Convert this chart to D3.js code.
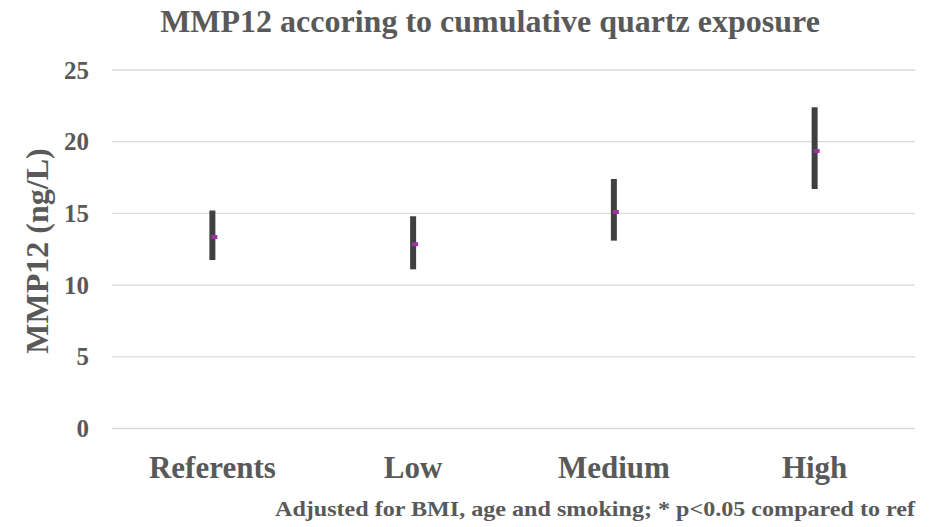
<!DOCTYPE html>
<html>
<head>
<meta charset="utf-8">
<script src="https://cdn.jsdelivr.net/npm/d3@7"></script>
<style>
  body { margin: 0; background: #fff; }
  text { font-family: "Liberation Serif", "Times New Roman", serif; font-weight: bold; fill: #595959; }
</style>
</head>
<body>
<div id="chart"></div>
<script>
// values
var categories = ["Referents", "Low", "Medium", "High"];
var highs = [15.2, 14.8, 17.4, 22.4];
var lows = [11.75, 11.1, 13.1, 16.7];
var means = [13.35, 12.85, 15.1, 19.35];
var yTicks = [0, 5, 10, 15, 20, 25];

function draw() {
    var width = 930, height = 527;
    var left = 112, right = 915, top = 70, bottom = 428.5;

    var svg = d3.select("#chart").append("svg")
        .attr("width", width)
        .attr("height", height);

    var x = d3.scaleBand()
        .domain(categories)
        .range([left, right]);

    var y = d3.scaleLinear()
        .domain([0, 25])
        .range([bottom, top]);

    // grid
    svg.append("g").selectAll("line")
        .data(yTicks)
        .enter()
        .append("line")
        .attr("x1", left)
        .attr("x2", right)
        .attr("y1", function(d) { return y(d); })
        .attr("y2", function(d) { return y(d); })
        .attr("stroke", "#d9d9d9")
        .attr("stroke-width", 1.3);

    // y axis labels
    var yAxis = d3.axisLeft(y).tickValues(yTicks).tickSize(0).tickPadding(0);
    var ya = svg.append("g")
        .attr("transform", "translate(89,0)")
        .call(yAxis);
    ya.attr("font-family", null).attr("font-size", null);
    ya.select(".domain").remove();
    ya.selectAll("text")
        .attr("font-size", 25)
        .attr("dy", 8)
        .attr("fill", null);

    // x axis labels
    var xAxis = d3.axisBottom(x).tickSize(0).tickPadding(0);
    var xa = svg.append("g")
        .attr("transform", "translate(0,478)")
        .call(xAxis);
    xa.attr("font-family", null).attr("font-size", null);
    xa.select(".domain").remove();
    xa.selectAll("text")
        .attr("font-size", 31)
        .attr("y", 0)
        .attr("dy", 0)
        .attr("fill", null);

    // high-low bars
    svg.append("g").selectAll("line")
        .data(categories)
        .enter()
        .append("line")
        .attr("x1", function(d) { return x(d) + x.bandwidth() / 2; })
        .attr("x2", function(d) { return x(d) + x.bandwidth() / 2; })
        .attr("y1", function(d, i) { return y(highs[i]); })
        .attr("y2", function(d, i) { return y(lows[i]); })
        .attr("stroke", "#404040")
        .attr("stroke-width", 6);

    // mean markers
    svg.append("g").selectAll("rect")
        .data(categories)
        .enter()
        .append("rect")
        .attr("x", function(d) { return x(d) + x.bandwidth() / 2 - 1; })
        .attr("y", function(d, i) { return y(means[i]) - 2; })
        .attr("width", 6)
        .attr("height", 4)
        .attr("fill", "#a0309f");

    svg.append("text")
        .attr("x", 490)
        .attr("y", 32)
        .attr("text-anchor", "middle")
        .attr("font-size", 32)
        .text("MMP12 accoring to cumulative quartz exposure");

    svg.append("text")
        .attr("transform", "translate(48,251) rotate(-90)")
        .attr("text-anchor", "middle")
        .attr("font-size", 32)
        .text("MMP12 (ng/L)");

    svg.append("text")
        .attr("x", 915)
        .attr("y", 516)
        .attr("text-anchor", "end")
        .attr("font-size", 22)
        .attr("textLength", 640)
        .attr("lengthAdjust", "spacingAndGlyphs")
        .text("Adjusted for BMI, age and smoking; * p<0.05 compared to ref");
}

draw();
</script>
</body>
</html>
